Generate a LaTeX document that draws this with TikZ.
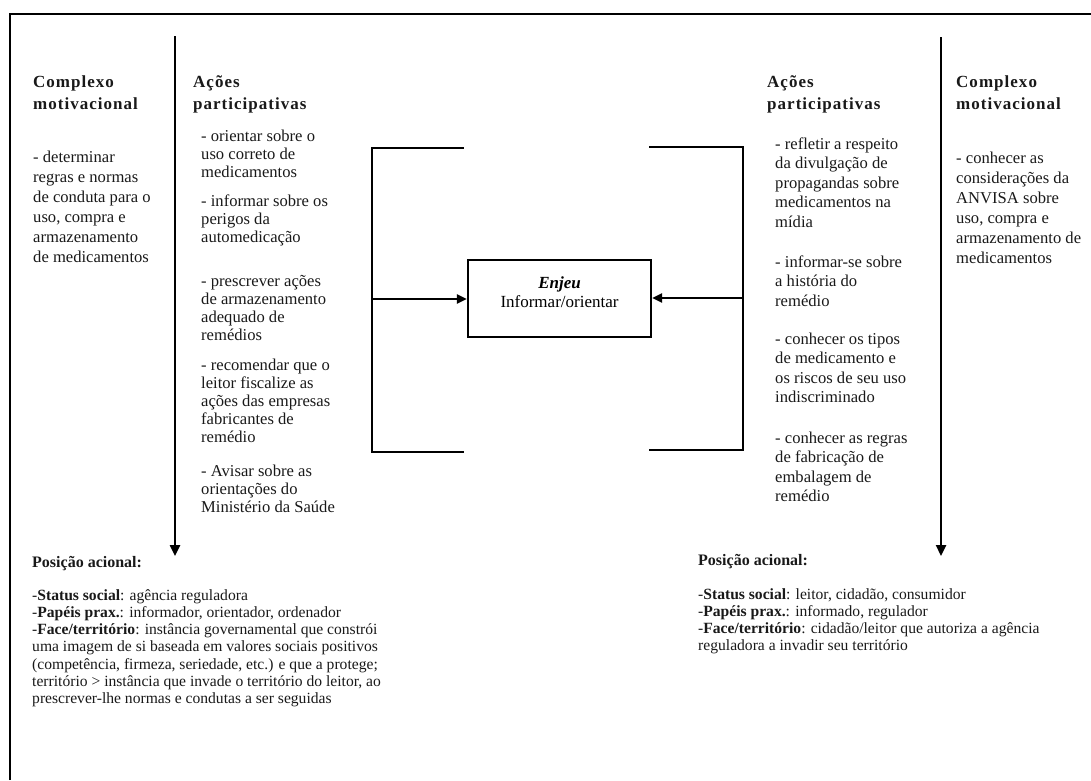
\documentclass[tikz,border=0pt]{standalone}
\usepackage{fontspec}
\setmainfont{Liberation Serif}
\newfontfamily\headfont[LetterSpace=6]{Liberation Serif}
\usetikzlibrary{arrows.meta}
\newcommand\mypar[1]{\parbox[t]{420pt}{\raggedright #1}}
\begin{document}
\begin{tikzpicture}[x=1pt,y=-1pt,
  txt/.style={anchor=base west, inner sep=0pt, text=black!90},
  head/.style={txt, font=\headfont\bfseries\fontsize{17}{22}\selectfont},
  colA/.style={txt, font=\fontsize{16.6}{18}\selectfont},
  colB/.style={txt, font=\fontsize{16.6}{19.5}\selectfont},
  colC/.style={txt, font=\fontsize{16.6}{20}\selectfont},
  bot/.style={txt, font=\fontsize{15.6}{17.3}\selectfont},
  bothead/.style={txt, font=\bfseries\fontsize{16}{17}\selectfont},
  ln/.style={line width=2.2pt, line cap=rect},
  arr/.style={line width=2.2pt, -{Triangle[length=10pt,width=9pt]}},
  varr/.style={line width=2.4pt, -{Triangle[length=11pt,width=10pt]}}
]
\useasboundingbox (0,0) rectangle (1091,780);
% frame
\draw[line width=2pt] (9.5,780) -- (9.5,14) -- (1091,14);

% left outer column
\node[head] (cmL) at (33,87) {\mypar{Complexo\\motivacional}};
\node[colC] (cmLt) at (33,162) {\mypar{- determinar\\regras e normas\\de conduta para o\\uso, compra e\\armazenamento\\de medicamentos}};

% left action column
\node[head] (apL) at (193,87) {\mypar{Ações\\participativas}};
\node[colA] (l1) at (201,141) {\mypar{- orientar sobre o\\uso correto de\\medicamentos}};
\node[colA] (l2) at (201,206) {\mypar{- informar sobre os\\perigos da\\automedicação}};
\node[colA] (l3) at (201,286) {\mypar{- prescrever ações\\de armazenamento\\adequado de\\remédios}};
\node[colA] (l4) at (201,370) {\mypar{- recomendar que o\\leitor fiscalize as\\ações das empresas\\fabricantes de\\remédio}};
\node[colA] (l5) at (201,476) {\mypar{- Avisar sobre as\\orientações do\\Ministério da Saúde}};

% right action column
\node[head] (apR) at (767,87) {\mypar{Ações\\participativas}};
\node[colB] (r1) at (775,149) {\mypar{- refletir a respeito\\da divulgação de\\propagandas sobre\\medicamentos na\\mídia}};
\node[colB] (r2) at (775,267) {\mypar{- informar-se sobre\\a história do\\remédio}};
\node[colB] (r3) at (775,344) {\mypar{- conhecer os tipos\\de medicamento e\\os riscos de seu uso\\indiscriminado}};
\node[colB] (r4) at (775,443) {\mypar{- conhecer as regras\\de fabricação de\\embalagem de\\remédio}};

% right outer column
\node[head] (cmR) at (956,87) {\mypar{Complexo\\motivacional}};
\node[colC] (cmRt) at (956,163) {\mypar{- conhecer as\\considerações da\\ANVISA sobre\\uso, compra e\\armazenamento de\\medicamentos}};

% vertical arrows
\coordinate (vLtop) at (175,36);
\coordinate (vLbot) at (175,556);
\coordinate (vRtop) at (941,37);
\coordinate (vRbot) at (941,556);
\draw[varr] (vLtop) -- (vLbot);
\draw[varr] (vRtop) -- (vRbot);

% central box
\node[draw, line width=2.2pt, minimum width=183pt, minimum height=77pt, inner sep=0pt] (enjeu) at (559.5,298.5) {};
\node[inner sep=0pt, align=center, font=\fontsize{17}{19}\selectfont] (enjeutxt) at (559.5,292) {\textbf{\textit{Enjeu}}\\Informar/orientar};

% left bracket
\coordinate (bLt) at (463,148);
\coordinate (bLtc) at (372,148);
\coordinate (bLbc) at (372,452);
\coordinate (bLb) at (463,452);
\coordinate (bLm) at (372,299);
\draw[ln] (bLt) -- (bLtc) -- (bLbc) -- (bLb);
\draw[arr] (bLm) -- (enjeu.west |- bLm);

% right bracket
\coordinate (bRt) at (650,147);
\coordinate (bRtc) at (743,147);
\coordinate (bRbc) at (743,450);
\coordinate (bRb) at (650,450);
\coordinate (bRm) at (743,298);
\draw[ln] (bRt) -- (bRtc) -- (bRbc) -- (bRb);
\draw[arr] (bRm) -- (enjeu.east |- bRm);

% bottom left
\node[bothead] (paL) at (32,567) {Posição acional:};
\node[bot] (paLt) at (32,600) {\mypar{-\textbf{Status social}: agência reguladora\\
-\textbf{Papéis prax.}: informador, orientador, ordenador\\
-\textbf{Face/território}: instância governamental que constrói\\
uma imagem de si baseada em valores sociais positivos\\
(competência, firmeza, seriedade, etc.) e que a protege;\\
território > instância que invade o território do leitor, ao\\
prescrever-lhe normas e condutas a ser seguidas}};

% bottom right
\node[bothead] (paR) at (698,565) {Posição acional:};
\node[bot] (paRt) at (698,599) {\mypar{-\textbf{Status social}: leitor, cidadão, consumidor\\
-\textbf{Papéis prax.}: informado, regulador\\
-\textbf{Face/território}: cidadão/leitor que autoriza a agência\\
reguladora a invadir seu território}};
\end{tikzpicture}
\end{document}
